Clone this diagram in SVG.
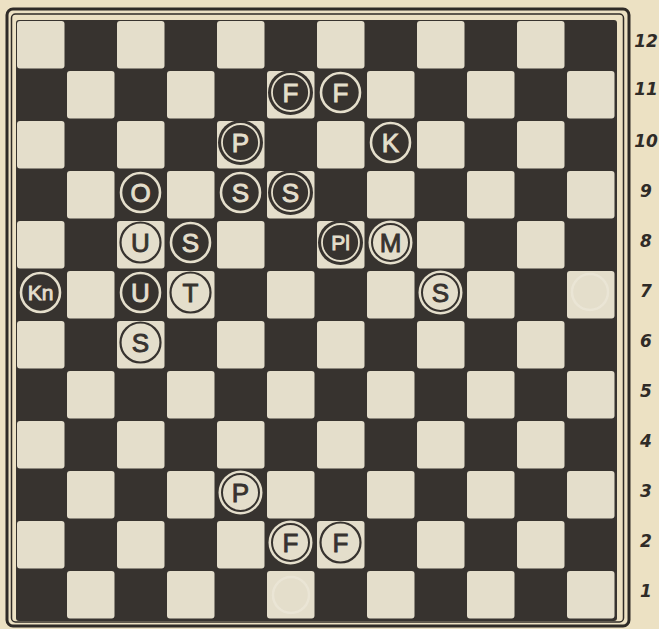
<svg xmlns="http://www.w3.org/2000/svg" width="659" height="629" viewBox="0 0 659 629">
<style>
.bg{fill:#ece1c3}
.frame{fill:none;stroke:#2f2b27}
.dk{fill:#37332f}
.lt{fill:#e4decb}
.ringL{fill:none;stroke:#e4decb;stroke-width:2.6}
.ringD{fill:#e4decb;stroke:#37332f;stroke-width:2.2}
.discD{fill:#37332f}
.discL{fill:#e4decb}
.inL{fill:none;stroke:#e4decb;stroke-width:1.8}
.inD{fill:#e4decb;stroke:#37332f;stroke-width:2}
.tL{fill:#e4decb;stroke:#e4decb;stroke-width:0.9;font-family:"Liberation Sans",Arial,sans-serif;font-size:26px;text-anchor:middle}
.tD{fill:#37332f;stroke:#37332f;stroke-width:0.9;font-family:"Liberation Sans",Arial,sans-serif;font-size:26px;text-anchor:middle}
.sm{font-size:21px}
.rank{fill:#2f2b27;font-family:"DejaVu Sans",sans-serif;font-style:italic;font-weight:bold;font-size:17px;text-anchor:middle}
.ghost{fill:none;stroke:#f2eee3;stroke-width:2.5;opacity:.45}
</style>
<defs>
<pattern id="cb" x="16" y="20" width="100" height="100" patternUnits="userSpaceOnUse">
<rect class="lt" x="1" y="1" width="47.5" height="47.5" rx="3"/>
<rect class="lt" x="51" y="51" width="47.5" height="47.5" rx="3"/>
</pattern>
</defs>
<rect class="bg" x="0" y="0" width="659" height="629"/>
<g id="frame">
<rect class="frame" x="7" y="9" width="622" height="617" rx="6" stroke-width="3"/>
<rect class="frame" x="11.5" y="14" width="612" height="608" rx="4" stroke-width="1.5"/>
</g>
<g id="board">
<rect class="dk" x="16" y="20" width="601" height="601" rx="3"/>
<rect fill="url(#cb)" x="16" y="20" width="600" height="600"/>
</g>
<g id="ghosts">
<circle class="ghost" cx="590" cy="292" r="18"/>
<circle class="ghost" cx="291" cy="595" r="18"/>
</g>
<g id="ranks">
<text class="rank" x="646" y="47">12</text>
<text class="rank" x="646" y="95">11</text>
<text class="rank" x="646" y="147">10</text>
<text class="rank" x="646" y="197">9</text>
<text class="rank" x="646" y="247">8</text>
<text class="rank" x="646" y="297">7</text>
<text class="rank" x="646" y="347">6</text>
<text class="rank" x="646" y="397">5</text>
<text class="rank" x="646" y="447">4</text>
<text class="rank" x="646" y="497">3</text>
<text class="rank" x="646" y="547">2</text>
<text class="rank" x="646" y="597">1</text>
</g>
<g id="connectors"/>
<g id="p-F-11a" transform="translate(290.5,92.5)"><circle class="discD" r="22.5"/><circle class="inL" r="18.5"/><text class="tL" y="9.3">F</text></g>
<g id="p-F-11b" transform="translate(340.5,92.5)"><circle class="ringL" r="19.5"/><text class="tL" y="9.3">F</text></g>
<g id="p-P-10" transform="translate(240.5,142.5)"><circle class="discD" r="22.5"/><circle class="inL" r="18.5"/><text class="tL" y="9.3">P</text></g>
<g id="p-K-10" transform="translate(390.5,142.5)"><circle class="ringL" r="19.5"/><text class="tL" y="9.3">K</text></g>
<g id="p-O-9" transform="translate(140.5,192.5)"><circle class="ringL" r="19.5"/><text class="tL" y="9.3">O</text></g>
<g id="p-S-9a" transform="translate(240.5,192.5)"><circle class="ringL" r="19.5"/><text class="tL" y="9.3">S</text></g>
<g id="p-S-9b" transform="translate(290.5,192.5)"><circle class="discD" r="22.5"/><circle class="inL" r="18.5"/><text class="tL" y="9.3">S</text></g>
<g id="p-U-8" transform="translate(140.5,242.5)"><circle class="ringD" r="20"/><text class="tD" y="9.3">U</text></g>
<g id="p-S-8" transform="translate(190.5,242.5)"><circle class="ringL" r="19.5"/><text class="tL" y="9.3">S</text></g>
<g id="p-Pl-8" transform="translate(340.5,242.5)"><circle class="discD" r="22.5"/><circle class="inL" r="18.5"/><text class="tL sm" y="7.5">Pl</text></g>
<g id="p-M-8" transform="translate(390.5,242.5)"><circle class="discL" r="22"/><circle class="inD" r="18.5"/><text class="tD" y="9.3">M</text></g>
<g id="p-Kn-7" transform="translate(40.5,292.5)"><circle class="ringL" r="19.5"/><text class="tL sm" y="7.5">Kn</text></g>
<g id="p-U-7" transform="translate(140.5,292.5)"><circle class="ringL" r="19.5"/><text class="tL" y="9.3">U</text></g>
<g id="p-T-7" transform="translate(190.5,292.5)"><circle class="ringD" r="20"/><text class="tD" y="9.3">T</text></g>
<g id="p-S-7" transform="translate(440.5,292.5)"><circle class="discL" r="22"/><circle class="inD" r="18.5"/><text class="tD" y="9.3">S</text></g>
<g id="p-S-6" transform="translate(140.5,342.5)"><circle class="ringD" r="20"/><text class="tD" y="9.3">S</text></g>
<g id="p-P-3" transform="translate(240.5,492.5)"><circle class="discL" r="22"/><circle class="inD" r="18.5"/><text class="tD" y="9.3">P</text></g>
<g id="p-F-2a" transform="translate(290.5,542.5)"><circle class="discL" r="22"/><circle class="inD" r="18.5"/><text class="tD" y="9.3">F</text></g>
<g id="p-F-2b" transform="translate(340.5,542.5)"><circle class="ringD" r="20"/><text class="tD" y="9.3">F</text></g>
</svg>
